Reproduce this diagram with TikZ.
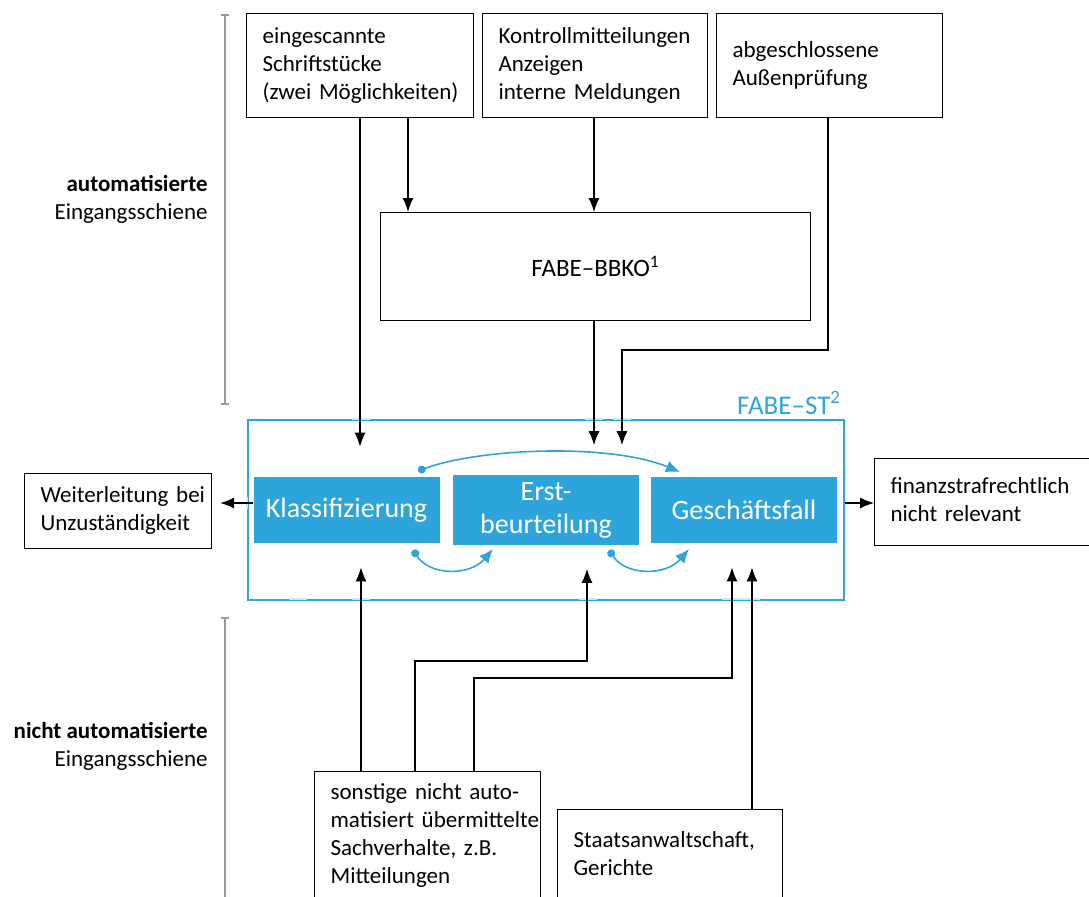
\documentclass[tikz,border=0pt]{standalone}
\usepackage{fontspec}
\setmainfont{Carlito}
\usetikzlibrary{arrows.meta}
\definecolor{fabeblue}{RGB}{45,165,220}
\newcommand\boxlines[1]{\begin{tabular}{@{}l@{}}#1\end{tabular}}
\tikzset{
  box/.style={draw, line width=0.6pt, anchor=north west, align=left, inner xsep=8pt,
    font=\fontsize{11.5}{14}\selectfont},
  blue box/.style={fill=fabeblue, text=white, minimum width=93pt, minimum height=33pt,
    align=center, font=\fontsize{14}{16.5}\selectfont},
  arr/.style={line width=0.6pt, -{Latex[length=7pt,width=5.5pt]}},
  loop arr/.style={fabeblue, line width=0.8pt, {Circle[length=4pt]}-{Latex[length=7pt,width=6pt]}},
  patch/.style={fabeblue!25, line width=1.2pt},
  bracket/.style={black!40, line width=1pt},
  side/.style={anchor=east, align=right, inner sep=0pt, font=\fontsize{11.5}{14}\selectfont}
}
\begin{document}
\begin{tikzpicture}[x=0.5pt, y=-0.5pt]
  \useasboundingbox (0,0) rectangle (1089,896);
  % sources, top row
  \node[box, text width=97.5pt, minimum height=52pt] (scan) at (246,13) {\boxlines{eingescannte\\Schriftstücke\\(zwei Möglichkeiten)}};
  \node[box, text width=96.5pt, minimum height=52pt] (ctrl) at (482,13) {\boxlines{Kontrollmitteilungen\\Anzeigen\\interne Meldungen}};
  \node[box, text width=97pt, minimum height=52pt] (ap) at (716,13) {\boxlines{abgeschlossene\\Außenprüfung}};
  \node[box, text width=199pt, minimum height=54pt, align=center, font=\fontsize{12.5}{14}\selectfont] (bbko) at (380,212) {FABE–BBKO\textsuperscript{1}};
  % FABE-ST frame
  \node[draw=fabeblue, line width=1.2pt, minimum width=298pt, minimum height=90pt, anchor=north west, inner sep=0pt,
    label={[text=fabeblue, anchor=south east, inner sep=2pt, font=\fontsize{13.5}{16}\selectfont]north east:FABE–ST\textsuperscript{2}}] (fabest) at (247,419) {};
  \node[blue box] (klass) at (346.5,510) {Klassifizierung};
  \node[blue box] (erst) at (546,510) {Erst-\\beurteilung};
  \node[blue box] (gf) at (744,510) {Geschäftsfall};
  % targets left and right
  \node[box, text width=77.5pt, minimum height=37.5pt] (weiter) at (24,473) {\boxlines{Weiterleitung bei\\Unzuständigkeit}};
  \node[box, text width=97pt, minimum height=43.5pt] (finanz) at (874,458) {\boxlines{finanzstrafrechtlich\\nicht relevant}};
  % sources, bottom row
  \node[box, text width=97pt, minimum height=64.5pt] (sonst) at (314,771) {\boxlines{sonstige nicht auto-\\matisiert übermittelte\\Sachverhalte, z.B.\\Mitteilungen}};
  \node[box, text width=96.5pt, minimum height=46pt] (staats) at (557,809) {\boxlines{Staatsanwaltschaft,\\Gerichte}};
  % side labels
  \node[side] (autolbl) at (208,199) {\textbf{automatisierte}\\Eingangsschiene};
  \node[side] (manlbl) at (208,746) {\textbf{nicht automatisierte}\\Eingangsschiene};
  \draw[bracket, {Bar[width=4pt]}-{Bar[width=4pt]}] (225,14) -- (225,405);
  \draw[bracket, {Bar[width=4pt]}-] (225,617) -- (225,910);
  % light spots on the frame
  \foreach \a/\b in {352/370, 585/603, 613/631}
    \draw[patch] (\a,419) -- (\b,419);
  \foreach \a/\b in {289/307, 352/370, 579/597, 722/760}
    \draw[patch] (\a,599) -- (\b,599);
  \draw[patch] (247,497) -- (247,509);
  % incoming, top
  \draw[arr, shorten >=15pt] (scan.south -| 360,0) -- (klass.north -| 360,0);
  \draw[arr] (scan.south -| 408,0) -- (bbko.north -| 408,0);
  \draw[arr] (ctrl.south -| 594,0) -- (bbko.north -| 594,0);
  \draw[arr, shorten >=15pt] (bbko.south -| 594,0) -- (erst.north -| 594,0);
  \draw[arr, shorten >=15pt] (ap.south -| 828,0) |- (622,350) -- (erst.north -| 622,0);
  % incoming, bottom
  \draw[arr, shorten >=12pt] (sonst.north -| 361,0) -- (klass.south -| 361,0);
  \draw[arr, shorten >=12pt] (sonst.north -| 415,0) |- (587,661) -- (erst.south -| 587,0);
  \draw[arr, shorten >=12pt] (sonst.north -| 474,0) |- (732,678) -- (gf.south -| 732,0);
  \draw[arr, shorten >=12pt] (staats.north -| 752,0) -- (gf.south -| 752,0);
  % outgoing
  \draw[arr, shorten >=4pt] (klass.west |- 0,503) -- (weiter.east |- 0,503);
  \draw[arr] (fabest.east |- 0,503) -- (finanz.west |- 0,503);
  % steps inside FABE-ST
  \draw[loop arr] (418,471) .. controls (480,448) and (610,443) .. (680,472);
  \draw[loop arr] (413,550) .. controls (430,576) and (470,576) .. (493,549);
  \draw[loop arr] (609,550) .. controls (626,576) and (666,576) .. (689,549);
\end{tikzpicture}
\end{document}
